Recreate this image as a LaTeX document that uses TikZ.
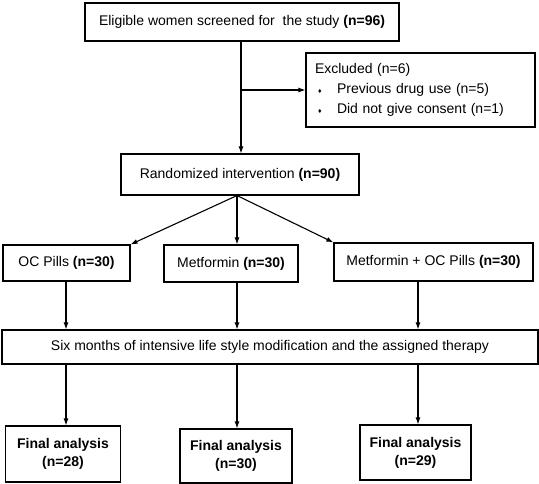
\documentclass[tikz,border=0pt]{standalone}
\usepackage{fontspec}
\setmainfont{Liberation Sans}
\usetikzlibrary{arrows.meta}
\tikzset{
  box/.style={draw, line width=1.1pt, rectangle, inner sep=0pt, align=center, font=\fontsize{14}{19}\selectfont},
  fbox/.style={box, font=\fontsize{14}{18}\selectfont\bfseries},
  conn/.style={line width=1.1pt, -{Latex[length=7pt,width=5pt]}}
}
\newcommand{\dbul}{\makebox[22pt][l]{\hspace{3pt}{\fontsize{7}{7}\selectfont ♦}}}
\begin{document}
\begin{tikzpicture}[x=1pt,y=-1pt]
\useasboundingbox (0,0) rectangle (539,484);
\node[box, minimum width=314pt, minimum height=38pt] (top) at (242,22) {Eligible women screened for\ \ the study \textbf{(n=96)}};
\node[box, minimum width=229pt, minimum height=74pt, text width=211pt, align=left, font=\fontsize{14}{20}\selectfont] (excl) at (420.5,90)
  {Excluded (n=6)\\\dbul Previous drug use (n=5)\\\dbul Did not give consent (n=1)};
\node[box, minimum width=238pt, minimum height=41pt] (rand) at (240,174.5) {Randomized intervention \textbf{(n=90)}};
\node[box, minimum width=127pt, minimum height=36pt] (oc) at (66.5,263) {OC Pills \textbf{(n=30)}};
\node[box, minimum width=134pt, minimum height=37pt] (met) at (231,263.5) {Metformin \textbf{(n=30)}};
\node[box, minimum width=199pt, minimum height=38pt] (mo) at (433.5,262) {Metformin + OC Pills \textbf{(n=30)}};
\node[box, minimum width=536pt, minimum height=34pt] (six) at (270,347) {Six months of intensive life style modification and the assigned therapy};
\node[fbox, minimum width=115pt, minimum height=56pt] (f1) at (63,454) {Final analysis\\(n=28)};
\node[fbox, minimum width=112pt, minimum height=54pt] (f2) at (236,456) {Final analysis\\(n=30)};
\node[fbox, minimum width=111pt, minimum height=55pt] (f3) at (415.5,452.5) {Final analysis\\(n=29)};
\coordinate (c1) at (66,0);
\coordinate (c2) at (237,0);
\coordinate (c3) at (418,0);
\coordinate (c0) at (241,0);
\draw[conn] (top.south -| c0) -- (rand.north -| c0);
\draw[conn] (excl.west -| c0) -- (excl.west);
\draw[conn] (rand.south -| c2) -- (oc.north east);
\draw[conn] (rand.south -| c2) -- (met.north -| c2);
\draw[conn] (rand.south -| c2) -- (mo.north west);
\draw[conn] (oc.south -| c1) -- (six.north -| c1);
\draw[conn] (met.south -| c2) -- (six.north -| c2);
\draw[conn] (mo.south -| c3) -- (six.north -| c3);
\draw[conn] (six.south -| c1) -- (f1.north -| c1);
\draw[conn] (six.south -| c2) -- (f2.north -| c2);
\draw[conn] (six.south -| c3) -- (f3.north -| c3);
\end{tikzpicture}
\end{document}
